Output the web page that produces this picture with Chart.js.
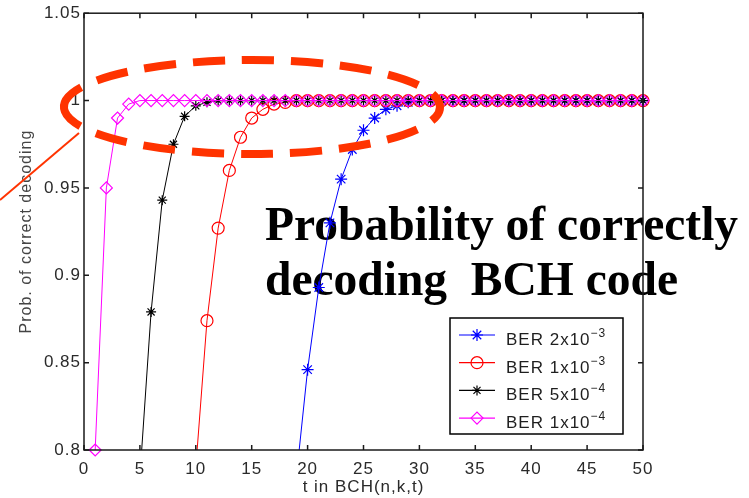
<!DOCTYPE html>
<html>
<head>
<meta charset="utf-8">
<script src="https://cdn.jsdelivr.net/npm/chart.js@4/dist/chart.umd.min.js"></script>
<style>
  html, body { margin: 0; padding: 0; background: #fff; }
  #wrap { width: 749px; height: 498px; position: relative; }
</style>
</head>
<body>
<div id="wrap"><canvas id="c" width="749" height="498"></canvas></div>
<script>
// t values (x axis)
const tValues = [1, 2, 3, 4, 5, 6, 7, 8, 9, 10,
  11, 12, 13, 14, 15, 16, 17, 18, 19, 20,
  21, 22, 23, 24, 25, 26, 27, 28, 29, 30,
  31, 32, 33, 34, 35, 36, 37, 38, 39, 40,
  41, 42, 43, 44, 45, 46, 47, 48, 49, 50];

// probability of correct decoding, one list per BER (null = far below the plot)
const ber2e3 = [null, null, null, null, null, null, null, null, null, null,
  null, null, null, null, null, null, null, null, 0.785, 0.846,
  0.893, 0.930, 0.955, 0.972, 0.983, 0.990, 0.995, 0.997, 0.999, 1,
  1, 1, 1, 1, 1, 1, 1, 1, 1, 1,
  1, 1, 1, 1, 1, 1, 1, 1, 1, 1];
const ber1e3 = [null, null, null, null, null, null, null, null, null, 0.79,
  0.874, 0.927, 0.960, 0.979, 0.990, 0.995, 0.998, 0.999, 1, 1,
  1, 1, 1, 1, 1, 1, 1, 1, 1, 1,
  1, 1, 1, 1, 1, 1, 1, 1, 1, 1,
  1, 1, 1, 1, 1, 1, 1, 1, 1, 1];
const ber5e4 = [null, null, null, null, 0.785, 0.879, 0.943, 0.975, 0.991, 0.997,
  0.999, 1, 1, 1, 1, 1, 1, 1, 1, 1,
  1, 1, 1, 1, 1, 1, 1, 1, 1, 1,
  1, 1, 1, 1, 1, 1, 1, 1, 1, 1,
  1, 1, 1, 1, 1, 1, 1, 1, 1, 1];
const ber1e4 = [0.8, 0.95, 0.99, 0.998, 1, 1, 1, 1, 1, 1,
  1, 1, 1, 1, 1, 1, 1, 1, 1, 1,
  1, 1, 1, 1, 1, 1, 1, 1, 1, 1,
  1, 1, 1, 1, 1, 1, 1, 1, 1, 1,
  1, 1, 1, 1, 1, 1, 1, 1, 1, 1];

const seriesNames = ['BER 2x10', 'BER 1x10', 'BER 5x10', 'BER 1x10'];
const seriesExps = ['\u22123', '\u22123', '\u22124', '\u22124'];

const xTicks = [0, 5, 10, 15, 20, 25, 30, 35, 40, 45, 50];
const xTickLabels = ['0', '5', '10', '15', '20', '25', '30', '35', '40', '45', '50'];
const yTicks = [0.8, 0.85, 0.9, 0.95, 1, 1.05];
const yTickLabels = ['0.8', '0.85', '0.9', '0.95', '1', '1.05'];

const xTitle = 't in BCH(n,k,t)';
const yTitle = 'Prob. of correct decoding';
const noteLines = ['Probability of correctly', 'decoding  BCH code'];

const SANS = '"Liberation Sans", Arial, Helvetica, sans-serif';
const SERIF = '"Liberation Serif", "Times New Roman", serif';
const NOTE_RED = '#ff3300';

Chart.defaults.font.family = SANS;

const toPoints = arr => tValues.map((t, i) => ({ x: t, y: arr[i] }));

const styles = [
  { color: '#0000ff', pointStyle: 'star', radius: 6 },
  { color: '#ff0000', pointStyle: 'circle', radius: 6 },
  { color: '#000000', pointStyle: 'star', radius: 5 },
  { color: '#ff00ff', pointStyle: 'rectRot', radius: 6 }
];
const allSeries = [ber2e3, ber1e3, ber5e4, ber1e4];

const datasets = allSeries.map((arr, i) => ({
  label: seriesNames[i],
  data: toPoints(arr),
  borderColor: styles[i].color,
  backgroundColor: 'rgba(0,0,0,0)',
  pointBorderColor: styles[i].color,
  pointBackgroundColor: 'rgba(0,0,0,0)',
  pointStyle: styles[i].pointStyle,
  pointRadius: styles[i].radius,
  pointBorderWidth: 1.2,
  borderWidth: 1,
  tension: 0,
  order: 3 - i,
  clip: { left: 8, top: 8, right: 8, bottom: i === 3 ? 8 : 0 }
}));

// text spacing similar to the old rasterized labels
const spacingPlugin = {
  id: 'spacing',
  beforeDraw(chart) { chart.ctx.letterSpacing = '1px'; }
};

// annotation text sits under the curves
const notePlugin = {
  id: 'note',
  beforeDatasetsDraw(chart) {
    const ctx = chart.ctx;
    ctx.save();
    ctx.letterSpacing = '0px';
    ctx.fillStyle = '#000';
    ctx.font = 'bold 47.5px ' + SERIF;
    ctx.textBaseline = 'alphabetic';
    ctx.fillText(noteLines[0], 265, 240);
    ctx.fillText(noteLines[1], 265, 295);
    ctx.restore();
  }
};

// matlab-like box with inward ticks, plus legend
const boxPlugin = {
  id: 'box',
  afterDatasetsDraw(chart) {
    const { ctx, chartArea: a, scales: { x, y } } = chart;
    ctx.save();
    ctx.strokeStyle = '#1a1a1a';
    ctx.lineWidth = 1.5;
    ctx.strokeRect(a.left, a.top, a.right - a.left, a.bottom - a.top);
    ctx.beginPath();
    x.ticks.forEach(t => {
      const px = x.getPixelForValue(t.value);
      ctx.moveTo(px, a.bottom); ctx.lineTo(px, a.bottom - 5);
      ctx.moveTo(px, a.top); ctx.lineTo(px, a.top + 5);
    });
    y.ticks.forEach(t => {
      const py = y.getPixelForValue(t.value);
      ctx.moveTo(a.left, py); ctx.lineTo(a.left + 5, py);
      ctx.moveTo(a.right, py); ctx.lineTo(a.right - 5, py);
    });
    ctx.stroke();

    // legend
    const bw = 173, bh = 116;
    const bx = a.right - 20 - bw, by = a.bottom - 16 - bh;
    ctx.fillStyle = '#fff';
    ctx.fillRect(bx, by, bw, bh);
    ctx.strokeStyle = '#000';
    ctx.lineWidth = 1.5;
    ctx.strokeRect(bx, by, bw, bh);
    seriesNames.forEach((name, i) => {
      const ry = by + 17 + i * 27.7;
      const st = styles[i];
      ctx.strokeStyle = st.color;
      ctx.lineWidth = 1.2;
      ctx.beginPath();
      ctx.moveTo(bx + 9, ry); ctx.lineTo(bx + 45, ry);
      ctx.stroke();
      ctx.fillStyle = 'rgba(0,0,0,0)';
      ctx.lineWidth = 1.2;
      Chart.helpers.drawPoint(ctx, { pointStyle: st.pointStyle, radius: st.radius, rotation: 0, borderWidth: 1.2 }, bx + 27, ry);
      ctx.fillStyle = '#1e1e1e';
      ctx.letterSpacing = '1px';
      ctx.font = '17px ' + SANS;
      ctx.textAlign = 'left';
      ctx.textBaseline = 'alphabetic';
      ctx.fillText(name, bx + 56, ry + 10);
      const w = ctx.measureText(name).width;
      ctx.font = '12px ' + SANS;
      ctx.fillText(seriesExps[i], bx + 56 + w, ry + 2);
    });
    ctx.restore();
  },
  afterDraw(chart) {
    const ctx = chart.ctx;
    ctx.save();
    ctx.strokeStyle = NOTE_RED;
    // pointer line
    ctx.lineWidth = 2;
    ctx.beginPath();
    ctx.moveTo(0, 200); ctx.lineTo(79, 133);
    ctx.stroke();
    // dashed ellipse
    ctx.lineWidth = 8;
    ctx.setLineDash([32, 17]);
    ctx.beginPath();
    ctx.ellipse(252, 107, 188, 47, 0, Math.PI * 0.97, Math.PI * 2.97);
    ctx.stroke();
    ctx.restore();
  }
};

const tickFont = { size: 17, family: SANS };

new Chart(document.getElementById('c'), {
  type: 'line',
  data: { datasets },
  options: {
    responsive: false,
    animation: false,
    devicePixelRatio: 1,
    layout: { padding: { top: 12, right: 106, left: 0, bottom: 0 } },
    plugins: { legend: { display: false }, tooltip: { enabled: false } },
    scales: {
      x: {
        type: 'linear', min: 0, max: 50,
        afterBuildTicks: s => { s.ticks = xTicks.map(v => ({ value: v })); },
        afterFit: s => { s.height = 48; },
        grid: { display: false, drawTicks: false },
        border: { display: false },
        ticks: { callback: (v, i) => xTickLabels[i], font: tickFont, color: '#2a2a2a', padding: 9, maxRotation: 0, autoSkip: false },
        title: { display: true, text: xTitle, font: { size: 17, family: SANS }, color: '#2a2a2a', padding: { top: 0, bottom: 0 } }
      },
      y: {
        type: 'linear', min: 0.8, max: 1.05,
        afterBuildTicks: s => { s.ticks = yTicks.map(v => ({ value: v })); },
        afterFit: s => { s.width = 84; },
        grid: { display: false, drawTicks: false },
        border: { display: false },
        ticks: { callback: (v, i) => yTickLabels[i], font: tickFont, color: '#2a2a2a', padding: 3, autoSkip: false },
        title: { display: true, text: yTitle, font: { size: 16, family: SANS }, color: '#444', padding: { top: 17, bottom: 0 } }
      }
    }
  },
  plugins: [spacingPlugin, notePlugin, boxPlugin]
});
</script>
</body>
</html>
